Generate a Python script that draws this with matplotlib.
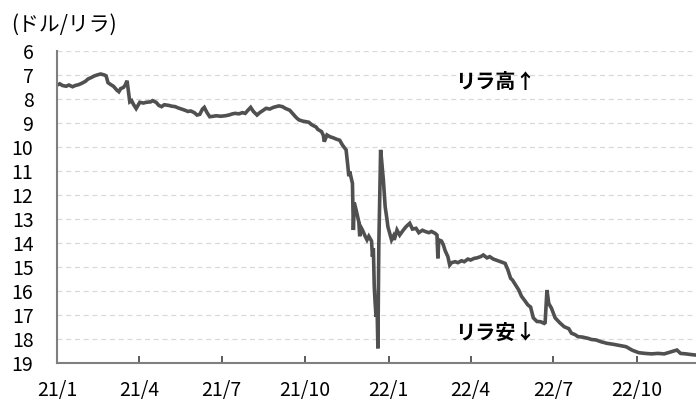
import matplotlib
matplotlib.use("Agg")
import matplotlib.pyplot as plt
import numpy as np
import pandas as pd

plt.rcParams['font.family'] = ['Noto Sans CJK JP', 'DejaVu Sans']

# USD/TRY (date, lira per dollar)
dates_2021 = [
    "01-01", "01-04", "01-07", "01-11", "01-14", "01-18", "01-21", "01-25", "01-28",
    "02-01", "02-04", "02-08", "02-11", "02-15", "02-18", "02-22", "02-24", "02-26",
    "03-01", "03-04", "03-08", "03-10", "03-12", "03-15", "03-17", "03-19", "03-22",
    "03-24", "03-26", "03-29", "03-31", "04-02", "04-06", "04-09", "04-14", "04-16",
    "04-20", "04-23", "04-26", "04-29", "05-04", "05-07", "05-11", "05-14", "05-18",
    "05-21", "05-25", "05-28", "06-01", "06-04", "06-07", "06-10", "06-12", "06-15",
    "06-18", "06-22", "06-25", "06-30", "07-05", "07-09", "07-13", "07-16", "07-20",
    "07-24", "07-27", "07-30", "08-02", "08-05", "08-09", "08-12", "08-16", "08-19",
    "08-23", "08-27", "09-02", "09-06", "09-09", "09-14", "09-17", "09-21", "09-24",
    "09-28", "10-01", "10-05", "10-08", "10-13", "10-15", "10-19", "10-21", "10-22",
    "10-25", "10-28", "11-01", "11-04", "11-08", "11-11", "11-15", "11-17", "11-18",
    "11-19", "11-22", "11-23", "11-24", "11-26", "11-29", "11-30", "12-01", "12-03",
    "12-06", "12-08", "12-10", "12-13", "12-14", "12-15", "12-16", "12-17", "12-18",
    "12-19", "12-20", "12-21", "12-22", "12-23", "12-24", "12-26", "12-28", "12-30",
    "12-31",
]
values_2021 = [
    7.40, 7.35, 7.42, 7.45, 7.40, 7.47, 7.42, 7.38, 7.33,
    7.25, 7.15, 7.08, 7.02, 6.97, 6.94, 6.98, 7.02, 7.30,
    7.38, 7.45, 7.62, 7.68, 7.55, 7.50, 7.40, 7.22, 8.10,
    8.05, 8.20, 8.38, 8.25, 8.12, 8.15, 8.12, 8.10, 8.05,
    8.12, 8.25, 8.30, 8.22, 8.25, 8.28, 8.30, 8.35, 8.40,
    8.44, 8.50, 8.48, 8.55, 8.65, 8.62, 8.40, 8.33, 8.55,
    8.72, 8.70, 8.68, 8.70, 8.68, 8.65, 8.60, 8.58, 8.60,
    8.55, 8.58, 8.45, 8.33, 8.50, 8.65, 8.55, 8.45, 8.37,
    8.40, 8.33, 8.27, 8.30, 8.37, 8.45, 8.58, 8.75, 8.85,
    8.90, 8.92, 8.95, 9.05, 9.15, 9.25, 9.34, 9.50, 9.76,
    9.48, 9.55, 9.60, 9.65, 9.70, 9.90, 10.10, 10.80, 11.20,
    11.00, 11.50, 13.44, 12.30, 12.60, 13.10, 13.70, 13.30, 13.44,
    13.70, 13.85, 13.70, 13.90, 14.55, 14.20, 15.80, 16.50, 17.05,
    16.50, 18.37, 14.10, 12.00, 10.10, 10.50, 11.35, 12.47, 13.00,
    13.30,
]

dates_2022 = [
    "01-02", "01-04", "01-06", "01-07", "01-10", "01-13", "01-17", "01-20", "01-24",
    "01-27", "01-31", "02-03", "02-07", "02-10", "02-14", "02-17", "02-21", "02-23",
    "02-24", "02-25", "02-28", "03-02", "03-04", "03-07", "03-09", "03-11", "03-15",
    "03-18", "03-22", "03-25", "03-29", "04-01", "04-05", "04-08", "04-12", "04-15",
    "04-19", "04-22", "04-26", "04-29", "05-04", "05-09", "05-12", "05-15", "05-17",
    "05-20", "05-24", "05-27", "05-30", "06-03", "06-06", "06-09", "06-13", "06-17",
    "06-21", "06-22", "06-23", "06-24", "06-26", "06-29", "07-03", "07-08", "07-13",
    "07-18", "07-21", "07-25", "07-28", "08-02", "08-08", "08-12", "08-17", "08-23",
    "08-29", "09-05", "09-12", "09-19", "09-26", "10-03", "10-10", "10-17", "10-24",
    "10-31", "11-07", "11-14", "11-18", "11-24", "11-30", "12-05",
]
values_2022 = [
    13.58, 13.85, 13.70, 13.85, 13.44, 13.65, 13.44, 13.30, 13.16,
    13.40, 13.37, 13.55, 13.45, 13.50, 13.55, 13.50, 13.58, 13.65,
    14.62, 13.85, 13.90, 14.06, 14.30, 14.55, 14.90, 14.80, 14.76,
    14.80, 14.72, 14.76, 14.65, 14.69, 14.62, 14.60, 14.55, 14.48,
    14.60, 14.55, 14.65, 14.69, 14.76, 14.83, 15.10, 15.45, 15.52,
    15.70, 15.94, 16.20, 16.35, 16.56, 16.65, 17.10, 17.25, 17.26,
    17.33, 17.30, 16.63, 15.94, 16.50, 16.70, 17.10, 17.30, 17.47,
    17.55, 17.74, 17.80, 17.88, 17.90, 17.95, 18.00, 18.02, 18.10,
    18.16, 18.20, 18.25, 18.30, 18.45, 18.55, 18.58, 18.60, 18.58,
    18.60, 18.52, 18.44, 18.58, 18.60, 18.63, 18.65,
]

tick_dates = ["2021-01-01", "2021-04-01", "2021-07-01", "2021-10-01",
              "2022-01-01", "2022-04-01", "2022-07-01", "2022-10-01"]
tick_labels = ["21/1", "21/4", "21/7", "21/10", "22/1", "22/4", "22/7", "22/10"]

x = pd.to_datetime(["2021-" + d for d in dates_2021] + ["2022-" + d for d in dates_2022])
y = np.array(values_2021 + values_2022)

fig = plt.figure(figsize=(6.96, 4.05), dpi=100)
ax = fig.add_axes([0.082, 0.1025, 0.918, 0.7705])

ax.plot(x, y, color="#505050", lw=2.6, solid_joinstyle="miter")

ax.set_ylim(19, 6)
ax.set_yticks(range(6, 20))
ax.set_xlim(pd.Timestamp("2021-01-01"), pd.Timestamp("2022-12-05"))
ax.set_xticks(pd.to_datetime(tick_dates))
ax.set_xticklabels(tick_labels)

ax.grid(axis="y", color="#d9d9d9", ls=(0, (4, 3)), lw=0.9)
ax.set_axisbelow(True)
for s in ["top", "right"]:
    ax.spines[s].set_visible(False)
for s in ["left", "bottom"]:
    ax.spines[s].set_color("#7f7f7f")
    ax.spines[s].set_linewidth(1.5)

ax.tick_params(axis="y", length=0, pad=17, labelsize=14)
ax.tick_params(axis="x", direction="in", length=5, width=1.2, color="#404040",
               pad=12, labelsize=14)

fig.text(0.016, 0.94, "(ドル/リラ)", fontsize=15, va="center", ha="left")

ax.text(pd.Timestamp("2022-03-15"), 7.27, "リラ高↑", fontsize=14.5,
        fontweight="bold", va="center", ha="left")
ax.text(pd.Timestamp("2022-03-15"), 17.69, "リラ安↓", fontsize=14.5,
        fontweight="bold", va="center", ha="left")

fig.savefig("out.png", dpi=100)
